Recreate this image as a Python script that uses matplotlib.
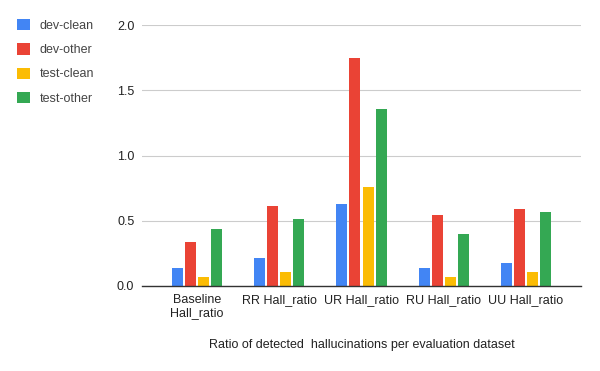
import matplotlib
matplotlib.use("Agg")
import matplotlib.pyplot as plt
import numpy as np

categories = ["Baseline\nHall_ratio", "RR Hall_ratio", "UR Hall_ratio", "RU Hall_ratio", "UU Hall_ratio"]
series_names = ["dev-clean", "dev-other", "test-clean", "test-other"]
dev_clean = [0.14, 0.215, 0.63, 0.14, 0.18]
dev_other = [0.34, 0.615, 1.745, 0.545, 0.59]
test_clean = [0.07, 0.11, 0.76, 0.07, 0.11]
test_other = [0.44, 0.51, 1.36, 0.40, 0.57]
colors = ["#4285F4", "#EA4335", "#FBBC04", "#34A853"]
yticks = [0.0, 0.5, 1.0, 1.5, 2.0]

plt.rcParams['font.family'] = ['Liberation Sans', 'DejaVu Sans']
fig = plt.figure(figsize=(6, 3.71), dpi=100)
ax = fig.add_axes([142/600, 1-286/371, (581-142)/600, (286-25)/371])

x = np.arange(len(categories))
bw = 0.134
step = 0.159
data = [dev_clean, dev_other, test_clean, test_other]
handles = []
for i, (vals, c, n) in enumerate(zip(data, colors, series_names)):
    b = ax.bar(x + (i - 1.5) * step, vals, width=bw, color=c, label=n, zorder=3)
    handles.append(b)

ax.set_xlim(-0.67, 4.67)
ax.set_ylim(0, 2.0)
ax.set_yticks(yticks)
ax.set_yticklabels([f"{v:.1f}" for v in yticks], fontsize=9, color="#222222")
ax.set_xticks(x)
ax.set_xticklabels(categories, fontsize=9, color="#222222", linespacing=1.1)
ax.tick_params(axis='y', length=0, pad=5.5)
ax.tick_params(axis='x', length=0, pad=6)
ax.grid(axis='y', color="#cccccc", linewidth=0.8, zorder=0)
for s in ["top", "right", "left"]:
    ax.spines[s].set_visible(False)
ax.spines["bottom"].set_color("#333333")
ax.spines["bottom"].set_linewidth(1.0)
ax.spines["bottom"].set_zorder(4)

fig.text(362/600, 1-345/371, "Ratio of detected  hallucinations per evaluation dataset",
         ha="center", va="center", fontsize=9, color="#222222")

leg = fig.legend(handles=handles, labels=series_names, loc="upper left",
                 bbox_to_anchor=(6/600, 1-8/371), frameon=False, fontsize=9,
                 handlelength=1.0, handleheight=1.0, handletextpad=0.8,
                 labelspacing=0.9, labelcolor="#444444")

fig.savefig("out.png", dpi=100)
